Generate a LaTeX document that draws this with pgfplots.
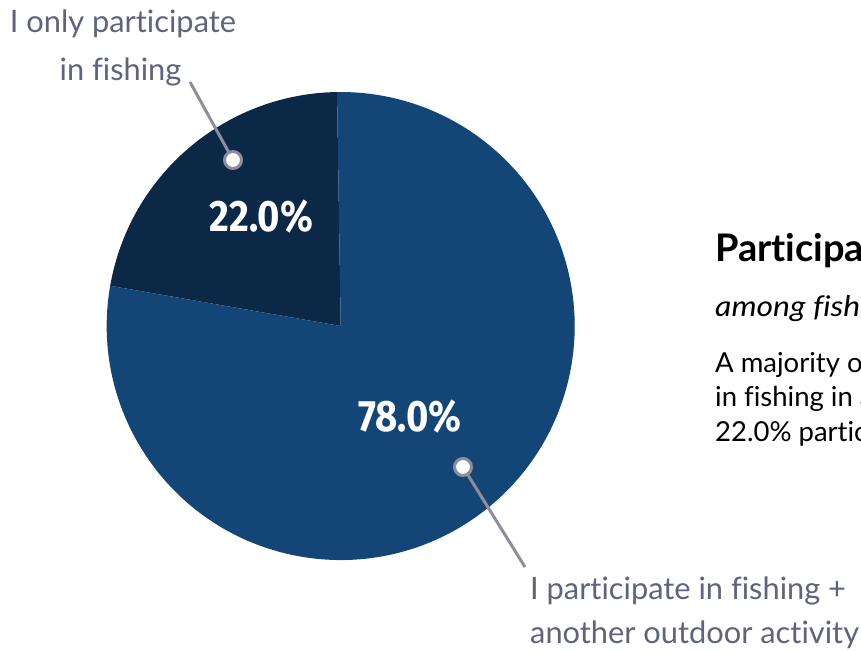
\documentclass[border=0pt]{standalone}
\usepackage{pgfplots}
\usepackage{pgfplotstable}
\pgfplotsset{compat=1.18}
\usepackage{fontspec}
\setmainfont{Lato}[Ligatures=NoCommon]
\newfontfamily\pctfont{Fira Sans}
\definecolor{darkc}{HTML}{0B2947}
\definecolor{bluec}{HTML}{134676}
\definecolor{txtc}{HTML}{5E6380}
\definecolor{leadc}{HTML}{8D8D9D}
\pgfplotstableread{
label share
only 22.0
plus 78.0
}\piedata
\begin{document}
\begin{tikzpicture}
\pgfplotstablegetelem{0}{share}\of\piedata \let\shareA\pgfplotsretval
\pgfplotstablegetelem{1}{share}\of\piedata \let\shareB\pgfplotsretval
\begin{axis}[hide axis, scale only axis, width=861pt, height=650pt,
  xmin=0, xmax=861, ymin=0, ymax=650, y dir=reverse, clip=true,
  at={(0,0)}, anchor=north west]
% pie wedges
\fill[darkc] (axis cs:340.7,326) -- ++(90.9:234pt) arc[start angle=90.9, delta angle={\shareA*3.6}, radius=234pt] -- cycle;
\fill[bluec] (axis cs:340.7,326) -- ++({90.9+\shareA*3.6}:234pt) arc[start angle={90.9+\shareA*3.6}, delta angle={\shareB*3.6}, radius=234pt] -- cycle;
% leaders
\draw[leadc, line width=3pt] (axis cs:190,82) -- (axis cs:233,160);
\draw[leadc, line width=3pt, fill=white] (axis cs:233,160) circle[radius=8.5pt];
\draw[leadc, line width=3pt] (axis cs:463,467) -- (axis cs:525,567);
\draw[leadc, line width=3pt, fill=white] (axis cs:463,467) circle[radius=8.5pt];
% percentages
\node[anchor=base, text=white, inner sep=0pt] at (axis cs:261.5,231.5) {\scalebox{0.87}[1]{\pctfont\bfseries\fontsize{44}{44}\selectfont \shareA\%}};
\node[anchor=base, text=white, inner sep=0pt] at (axis cs:410,431) {\scalebox{0.87}[1]{\pctfont\bfseries\fontsize{44}{44}\selectfont \shareB\%}};
% category labels
\node[anchor=base, text=txtc, inner sep=0pt] at (axis cs:123,32) {\fontsize{30.8}{35}\selectfont I only participate};
\node[anchor=base, text=txtc, inner sep=0pt] at (axis cs:120.5,80) {\fontsize{30.8}{35}\selectfont in fishing};
\node[anchor=base west, text=txtc, inner sep=0pt] at (axis cs:530,599) {\fontsize{30.8}{35}\selectfont I participate in fishing +};
\node[anchor=base west, text=txtc, inner sep=0pt] at (axis cs:530,643) {\fontsize{30.8}{35}\selectfont another outdoor activity};
% right-hand text (cut off at the edge, as in the reference)
\node[anchor=base west, text=black, inner sep=0pt] at (axis cs:715,261) {\fontsize{38}{40}\selectfont\bfseries Participation in other activities};
\node[anchor=base west, text=black, inner sep=0pt] at (axis cs:715,316) {\scalebox{1.12}[1]{\fontsize{28.5}{30}\selectfont\itshape among fishing participants}};
\node[anchor=base west, text=black, inner sep=0pt] at (axis cs:715,372) {\fontsize{27.5}{30}\selectfont A majority of participants take part};
\node[anchor=base west, text=black, inner sep=0pt] at (axis cs:715,406.5) {\fontsize{27.5}{30}\selectfont in fishing in addition to another activity;};
\node[anchor=base west, text=black, inner sep=0pt] at (axis cs:715,441) {\fontsize{27.5}{30}\selectfont 22.0\% participate only in fishing.};
\end{axis}
\pgfresetboundingbox
\useasboundingbox (current axis.south west) rectangle (current axis.north east);
\end{tikzpicture}
\end{document}
